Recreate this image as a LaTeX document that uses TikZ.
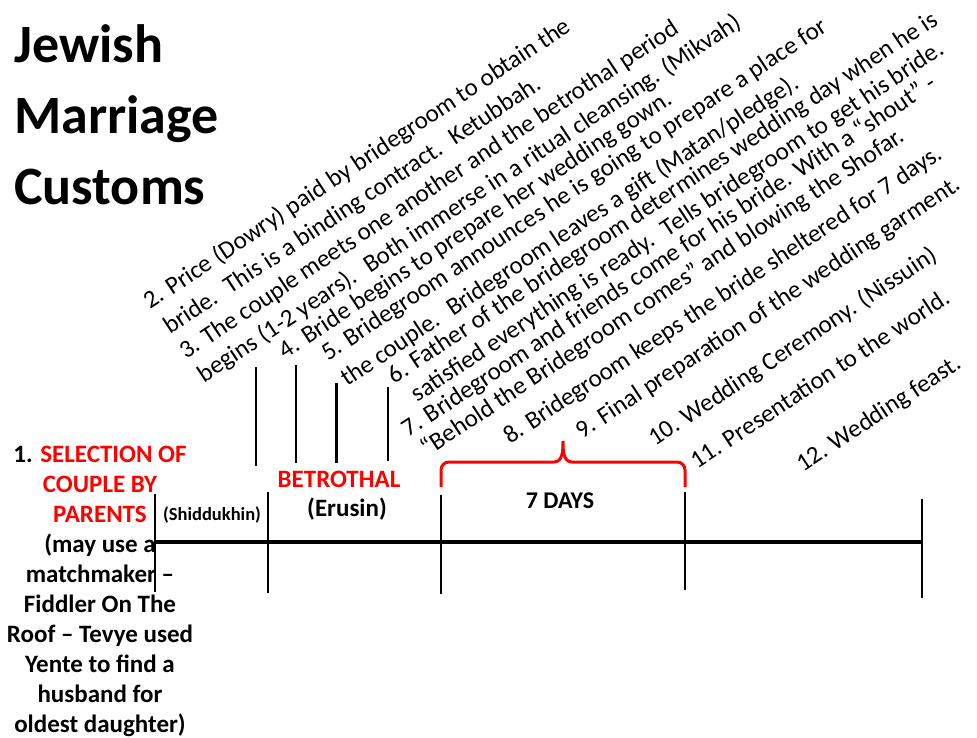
\documentclass[tikz,border=0pt]{standalone}
\usepackage{fontspec}
\setmainfont{Carlito}
\usepackage{xcolor}

\tikzset{
  itemline/.style={rotate=33.5, anchor=base west, inner sep=0pt,
    font=\fontsize{25}{31}\selectfont},
  boldlabel/.style={inner sep=0pt, font=\bfseries\fontsize{25}{30}\selectfont},
  tickline/.style={line width=2pt},
  timeline/.style={line width=4.5pt},
  braceline/.style={red, line width=3pt},
}

\begin{document}
\begin{tikzpicture}[x=1pt,y=-1pt]
\path[fill=white,use as bounding box] (0,0) rectangle (977,738);

    % title and left column
    \node[anchor=north west, inner sep=0pt, align=left,
      font=\bfseries\fontsize{54}{71}\selectfont] (title) at (14,24)
      {Jewish\\Marriage\\Customs};
    \node[boldlabel, align=center, anchor=north] (select) at (100,446)
      {1. \textcolor{red}{SELECTION OF}\\ \textcolor{red}{COUPLE BY}\\
       \textcolor{red}{PARENTS}\\ (may use a\\ matchmaker --\\ Fiddler On The\\
       Roof -- Tevye used\\ Yente to find a\\ husband for\\ oldest daughter)};

    % the time line
    \coordinate (s0) at (155,542);
    \coordinate (s1) at (268,542);
    \coordinate (s2) at (441,542);
    \coordinate (s3) at (685,542);
    \coordinate (s4) at (922,542);
    \draw[timeline] (s0) -- (s4);
    \foreach \x/\top/\bot in {155/494/592, 268/492/593, 441/495/594, 685/492/590, 922/499/598}
      \draw[tickline] (\x,\top) -- (\x,\bot);
    % short marks of the betrothal
    \foreach \x/\top/\bot in {256/367/466, 296/365/463, 388/387/461}
      \draw[tickline] (\x,\top) -- (\x,\bot);
    \draw[line width=3pt] (336,383) -- (336,463);

    \node[boldlabel, font=\bfseries\fontsize{18.5}{22}\selectfont, anchor=base] (shidd) at (212,520) {(Shiddukhin)};
    \node[boldlabel, text=red, anchor=base] (betro) at (339,487) {BETROTHAL};
    \node[boldlabel, anchor=base] (erusin) at (347,516) {(Erusin)};
    \node[boldlabel, font=\bfseries\fontsize{24}{28}\selectfont, anchor=base] (days) at (560,508) {7 DAYS};

    % brace over the 7 days
    \coordinate (bl) at (441,487);
    \coordinate (br) at (685,487);
    \draw[braceline] (bl) -- (441,470) to[out=90,in=180] (449,462) -- (554,462)
      to[out=0,in=-90] (563,441) to[out=-90,in=180] (572,462) -- (677,462)
      to[out=0,in=90] (685,470) -- (br);

    % the steps
    \node[itemline] (i2a) at (150,310) {2. Price (Dowry) paid by bridegroom to obtain the};
    \node[itemline] (i2b) at (170,335) {bride.~ This is a binding contract.~ Ketubbah.};
    \node[itemline] (i3a) at (186,360) {3. The couple meets one another and the betrothal period};
    \node[itemline] (i3b) at (204.4,383.2) {begins (1-2 years).~ Both immerse in a ritual cleansing. (Mikvah)};
    \node[itemline] (i4) at (285.8,359.3) {4. Bride begins to prepare her wedding gown.};
    \node[itemline] (i5a) at (328,362) {5. Bridegroom announces he is going to prepare a place for};
    \node[itemline] (i5b) at (347,387) {the couple.~ Bridegroom leaves a gift (Matan/pledge).};
    \node[itemline] (i6a) at (394.7,384.5) {6. Father of the bridegroom determines wedding day when he is};
    \node[itemline] (i6b) at (417.7,402.6) {satisfied everything is ready.~ Tells bridegroom to get his bride.};
    \node[itemline] (i7a) at (408.4,438.1) {7. Bridegroom and friends come for his bride. With a “shout” -};
    \node[itemline] (i7b) at (427.7,457) {“Behold the Bridegroom comes” and blowing the Shofar.};
    \node[itemline] (i8) at (510,445) {8. Bridegroom keeps the bride sheltered for 7 days.};
    \node[itemline] (i9) at (582,440) {9. Final preparation of the wedding garment.};
    \node[itemline] (i10) at (655,447) {10. Wedding Ceremony. (Nissuin)};
    \node[itemline] (i11) at (697,470) {11. Presentation to the world.};
    \node[itemline] (i12) at (803,473) {12. Wedding feast.};

\end{tikzpicture}
\end{document}
